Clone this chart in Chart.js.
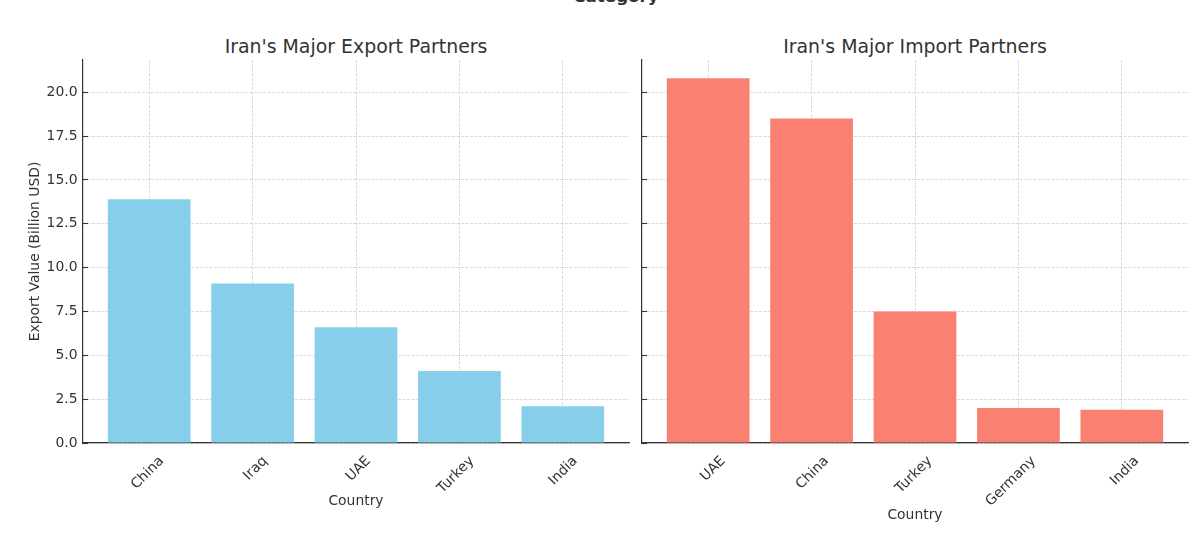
<!DOCTYPE html>
<html>
<head>
<meta charset="utf-8">
<script src="https://cdn.jsdelivr.net/npm/chart.js@4.4.1/dist/chart.umd.min.js"></script>
<style>
  body { margin: 0; width: 1200px; height: 542px; position: relative; overflow: hidden; background: #fff; font-family: "DejaVu Sans", sans-serif; }
  .sup { position: absolute; left: 0; width: 1232px; top: -14px; line-height: 20px; text-align: center; font-size: 16.7px; font-weight: bold; color: #333; }
  .ttl { position: absolute; top: 35.5px; width: 546px; line-height: 20px; text-align: center; font-size: 18.9px; color: #333; white-space: nowrap; }
  .wrap { position: absolute; top: 0; }
</style>
</head>
<body>
<div class="sup">Category</div>
<div class="ttl" style="left:83px">Iran's Major Export Partners</div>
<div class="ttl" style="left:642px">Iran's Major Import Partners</div>
<div class="wrap" style="left:0"><canvas id="exportChart" width="636" height="542"></canvas></div>
<div class="wrap" style="left:636px"><canvas id="importChart" width="564" height="542"></canvas></div>
<script>
// datos (miles de millones USD)
const exportCountries = ["China", "Iraq", "UAE", "Turkey", "India"];
const exportValues = [13.9, 9.1, 6.6, 4.1, 2.1];

const importCountries = ["UAE", "China", "Turkey", "Germany", "India"];
const importValues = [20.8, 18.5, 7.5, 2.0, 1.9];

const yTickValues = [0, 2.5, 5, 7.5, 10, 12.5, 15, 17.5, 20];

// margen de 5% como matplotlib
const yMax = Math.max(...exportValues, ...importValues) * 1.05;

const TEXT = "#333";
const GRID = "rgba(176,176,176,0.6)";

function crearGrafico(id, countries, values, color, opts) {
  const ctx = document.getElementById(id).getContext("2d");
  const n = countries.length;
  const pad = (n - 1 + 0.8) * 0.05;

  return new Chart(ctx, {
    type: "bar",
    data: {
      datasets: [{
        data: values.map((v, i) => ({ x: i, y: v })),
        backgroundColor: color,
        borderWidth: 0,
        barPercentage: 0.8,
        categoryPercentage: 1.0
      }]
    },
    options: {
      responsive: false,
      animation: false,
      layout: { padding: { top: 60, right: opts.padRight, bottom: 0, left: 0 } },
      plugins: { legend: { display: false }, tooltip: { enabled: false } },
      scales: {
        x: {
          type: "linear",
          offset: false,
          z: 1,
          min: -0.4 - pad,
          max: n - 1 + 0.4 + pad,
          afterBuildTicks: axis => { axis.ticks = countries.map((_, i) => ({ value: i })); },
          afterFit: axis => { axis.height = 99; },
          ticks: {
            callback: v => countries[v],
            minRotation: 45,
            maxRotation: 45,
            autoSkip: false,
            padding: 15,
            labelOffset: opts.labelOffset,
            color: TEXT,
            font: { family: "DejaVu Sans", size: 13.9 }
          },
          grid: { offset: false, color: GRID, lineWidth: 0.8, tickLength: -5, tickColor: TEXT, tickWidth: 1.1, tickBorderDash: [] },
          border: { color: TEXT, width: 1.2, dash: [3, 1.5] },
          title: {
            display: true,
            text: "Country",
            color: TEXT,
            font: { family: "DejaVu Sans", size: 13.9 },
            padding: { top: 0, bottom: opts.xTitlePad }
          }
        },
        y: {
          z: 1,
          min: 0,
          max: yMax,
          afterBuildTicks: axis => { axis.ticks = yTickValues.map(v => ({ value: v })); },
          afterFit: axis => { axis.width = opts.yWidth; },
          ticks: {
            display: opts.showY,
            callback: v => v.toFixed(1),
            padding: 10.5,
            color: TEXT,
            font: { family: "DejaVu Sans", size: 13.9 }
          },
          grid: { color: GRID, lineWidth: 0.8, tickLength: -5, tickColor: TEXT, tickWidth: 1.1, tickBorderDash: [] },
          border: { color: TEXT, width: 1.2, dash: [3, 1.5] },
          title: {
            display: opts.showY,
            text: "Export Value (Billion USD)",
            color: TEXT,
            font: { family: "DejaVu Sans", size: 13.9 },
            padding: { top: 26.6, bottom: 0 }
          }
        }
      }
    }
  });
}

crearGrafico("exportChart", exportCountries, exportValues, "#87CEEB",
  { padRight: 7, yWidth: 83, showY: true, labelOffset: 12.5, xTitlePad: 32.7 });

crearGrafico("importChart", importCountries, importValues, "#FA8072",
  { padRight: 12, yWidth: 6, showY: false, labelOffset: 15, xTitlePad: 18.7 });
</script>
</body>
</html>
